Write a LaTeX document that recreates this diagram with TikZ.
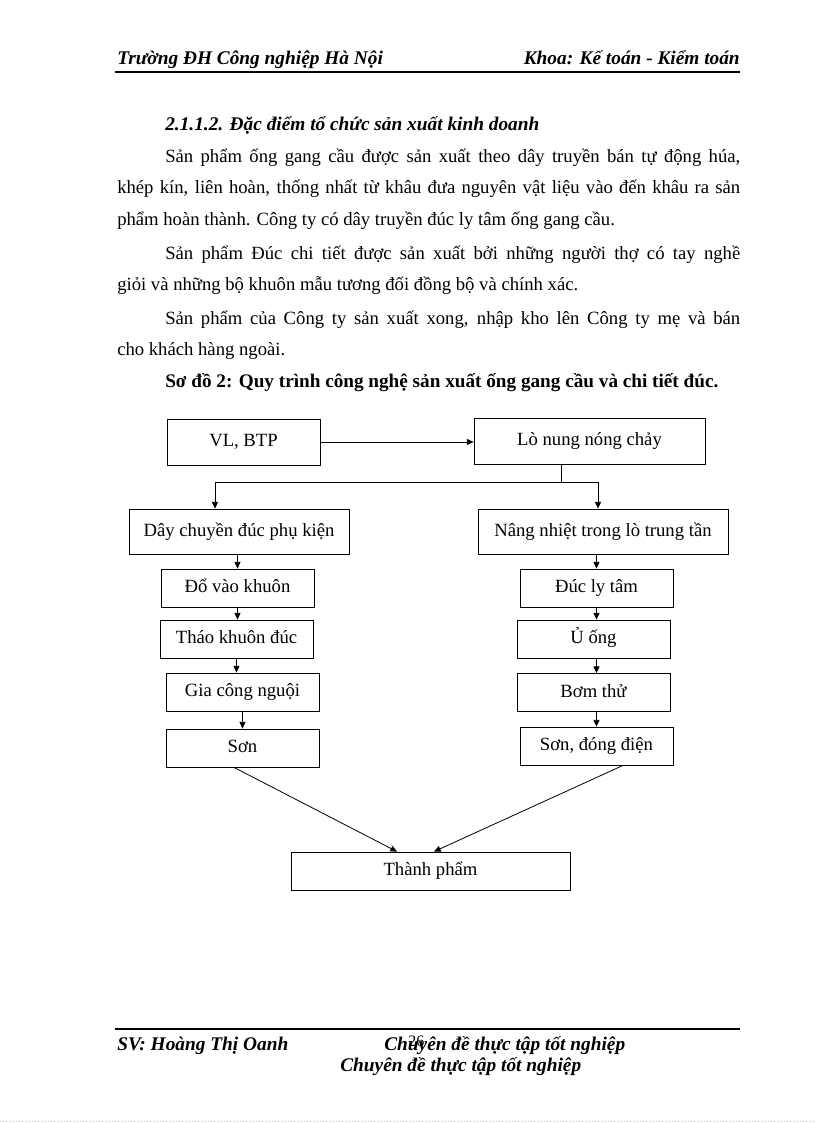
\documentclass[tikz,border=0pt]{standalone}
\usepackage{fontspec}
\setmainfont{Liberation Serif}
\usetikzlibrary{arrows.meta}
\begin{document}
\begin{tikzpicture}[x=0.75pt,y=-0.75pt,
  box/.style={draw, line width=0.6pt, inner sep=0pt, minimum height=28.5pt, text height=10pt, text depth=3pt, font=\fontsize{14}{16}\selectfont},
  arr/.style={-{Triangle[length=5pt,width=4.5pt]}, line width=0.6pt},
  hd/.style={font=\fontsize{14.5}{16}\selectfont\bfseries\itshape, inner sep=0pt, anchor=base west},
  txt/.style={font=\fontsize{14}{16}\selectfont, inner sep=0pt, anchor=base west}]
\useasboundingbox (0,0) rectangle (816,1123);
\fill[white] (0,0) rectangle (816,1123);
% dau trang
\node[hd] (truong) at (117,65) {Trường ĐH Công nghiệp Hà Nội};
\node[hd, anchor=base east] (khoa) at (740,65) {Khoa: Kế toán - Kiểm toán};
\draw[line width=1.5pt] (115,72) -- (740,72);
% noi dung
\node[hd] (muc) at (165,131) {2.1.1.2. Đặc điểm tổ chức sản xuất kinh doanh};
\node[txt] (l1) at (165,162.5) {\makebox[431.25pt][s]{Sản phẩm ống gang cầu được sản xuất theo dây truyền bán tự động húa,}};
\node[txt] (l2) at (117,194) {\makebox[467.25pt][s]{khép kín, liên hoàn, thống nhất từ khâu đưa nguyên vật liệu vào đến khâu ra sản}};
\node[txt] (l3) at (117,225.5) {phẩm hoàn thành. Công ty có dây truyền đúc ly tâm ống gang cầu.};
\node[txt] (l4) at (165,259) {\makebox[431.25pt][s]{Sản phẩm Đúc chi tiết được sản xuất bởi những người thợ có tay nghề}};
\node[txt] (l5) at (117,290.5) {giỏi và những bộ khuôn mẫu tương đối đồng bộ và chính xác.};
\node[txt] (l6) at (165,324) {\makebox[431.25pt][s]{Sản phẩm của Công ty sản xuất xong, nhập kho lên Công ty mẹ và bán}};
\node[txt] (l7) at (117,355.5) {cho khách hàng ngoài.};
\node[txt, font=\fontsize{14.4}{16}\selectfont\bfseries] (sodo) at (165,387) {Sơ đồ 2: Quy trình công nghệ sản xuất ống gang cầu và chi tiết đúc.};
% so do
\node[box, minimum width=114.75pt, minimum height=34.5pt] (vl) at (243.5,442) {VL, BTP};
\node[box, minimum width=173.25pt, minimum height=34.5pt] (lo) at (589.5,441) {Lò nung nóng chảy};
\node[box, minimum width=165pt, minimum height=33.75pt] (day) at (239,531.5) {Dây chuyền đúc phụ kiện};
\node[box, minimum width=187.5pt, minimum height=33.75pt] (nang) at (603,531.5) {Nâng nhiệt trong lò trung tần};
\node[box, minimum width=114.75pt] (do) at (237.5,588) {Đổ vào khuôn};
\node[box, minimum width=114.75pt] (duc) at (596.5,588) {Đúc ly tâm};
\node[box, minimum width=114.75pt] (thao) at (236.5,639) {Tháo khuôn đúc};
\node[box, minimum width=114.75pt] (u) at (593.5,639) {Ủ ống};
\node[box, minimum width=114.75pt] (gia) at (242.5,692) {Gia công nguội};
\node[box, minimum width=114.75pt] (bom) at (593.5,692.5) {Bơm thử};
\node[box, minimum width=114.75pt] (son) at (242.5,748) {Sơn};
\node[box, minimum width=114.75pt] (sondd) at (596.5,746) {Sơn, đóng điện};
\node[box, minimum width=209.25pt] (tp) at (430.5,871) {Thành phẩm};
\coordinate (re) at (561,482);
\coordinate (trai) at (215,482);
\coordinate (phai) at (598,482);
\draw[arr] (vl.east) -- (vl.east -| lo.west);
\draw (lo.south -| re) -- (re);
\draw (trai) -- (phai);
\draw[arr] (trai) -- (trai |- day.north);
\draw[arr] (phai) -- (phai |- nang.north);
\draw[arr] (do.north |- day.south) -- (do.north);
\draw[arr] (do.south) -- (do.south |- thao.north);
\draw[arr] (thao.south) -- (thao.south |- gia.north);
\draw[arr] (gia.south) -- (gia.south |- son.north);
\draw[arr] (duc.north |- nang.south) -- (duc.north);
\draw[arr] (duc.south) -- (duc.south |- u.north);
\draw[arr] (u.south -| duc.south) -- (bom.north -| duc.south);
\draw[arr] (bom.south -| sondd.north) -- (sondd.north);
\draw[arr] ([xshift=-6.4pt]son.south) -- ([xshift=-25.1pt]tp.north);
\draw[arr] ([xshift=19.9pt]sondd.south) -- ([xshift=2.6pt]tp.north);
% chan trang
\draw[line width=1.5pt] (115,1029) -- (740,1029);
\node[hd] (sv) at (117,1050) {SV: Hoàng Thị Oanh};
\node[hd] (cd1) at (384,1050) {Chuyên đề thực tập tốt nghiệp};
\node[txt, font=\fontsize{12}{14}\selectfont] (trang) at (408,1046) {26};
\node[hd] (cd2) at (340,1071) {Chuyên đề thực tập tốt nghiệp};
\draw[gray!50, dotted] (0,1121.5) -- (816,1121.5);
\end{tikzpicture}
\end{document}
